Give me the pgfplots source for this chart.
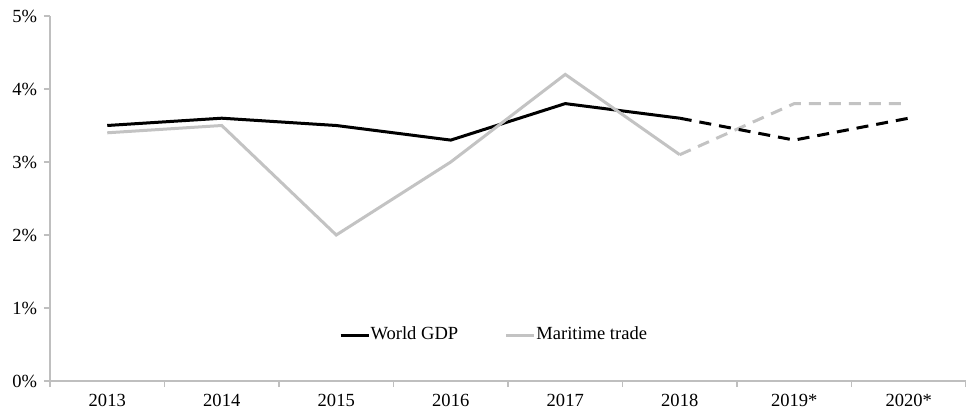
\documentclass[border=0pt]{standalone}
\usepackage{fontspec}
\setmainfont{Liberation Serif}
\usepackage{pgfplots}
\pgfplotsset{compat=1.18}

\definecolor{axgray}{HTML}{BFBFBF}
\definecolor{mtgray}{HTML}{C3C3C3}

\begin{document}
\begin{tikzpicture}
\begin{axis}[
    name=ax,
    scale only axis,
    width=458bp, height=182.5bp,
    axis lines*=left,
    axis line style={axgray, line width=0.8bp},
    tick style={axgray, line width=0.8bp},
    tick align=outside,
    major tick length=3bp,
    xmin=-0.5, xmax=7.5,
    ymin=0, ymax=5,
    xtick={-0.5,0.5,...,7.5},
    x tick label as interval,
    xticklabels={2013,2014,2015,2016,2017,2018,2019*,2020*},
    ytick={0,1,2,3,4,5},
    yticklabels={0\%,1\%,2\%,3\%,4\%,5\%},
    tick label style={font=\fontsize{9.3}{11}\selectfont, black},
    legend style={draw=none, fill=none, at={(0.484,0.126)}, anchor=center,
        font=\fontsize{9.3}{11}\selectfont, legend columns=2,
        /tikz/every even column/.append style={column sep=23bp},
        nodes={inner sep=0.3bp}},
    legend image code/.code={\draw[#1] (0bp,0bp) -- (14bp,0bp);},
    clip=false,
]
% solid parts (actual)
\addplot[black, line width=1.5bp] coordinates {(0,3.5) (1,3.6) (2,3.5) (3,3.3) (4,3.8) (5,3.6)};
\addlegendentry{World GDP}
\addplot[mtgray, line width=1.5bp] coordinates {(0,3.4) (1,3.5) (2,2.0) (3,3.0) (4,4.2) (5,3.1)};
\addlegendentry{Maritime trade}
% projections
\addplot[mtgray, line width=1.5bp, dash pattern=on 6bp off 4bp, forget plot] coordinates {(5,3.1) (6,3.8) (7,3.8)};
\addplot[black, line width=1.5bp, dash pattern=on 6bp off 4bp, forget plot] coordinates {(5,3.6) (6,3.3) (7,3.6)};
\end{axis}
\pgfresetboundingbox
\path ([xshift=-25bp,yshift=-16.5bp]ax.south west) rectangle ([yshift=8bp]ax.north east);
\end{tikzpicture}
\end{document}
